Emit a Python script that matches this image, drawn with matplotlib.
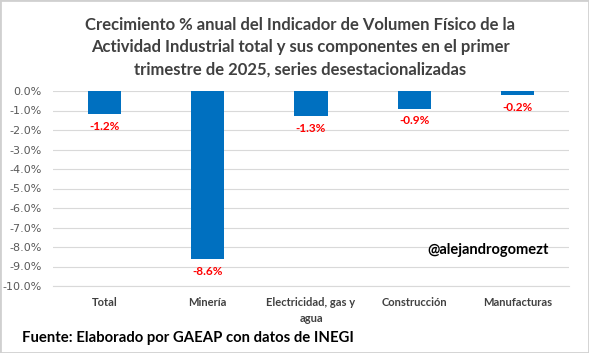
import matplotlib.pyplot as plt
from matplotlib.ticker import FuncFormatter
from matplotlib.patches import Rectangle

categorias = ["Total", "Minería", "Electricidad, gas y\nagua", "Construcción", "Manufacturas"]
crecimiento = [-1.2, -8.6, -1.3, -0.9, -0.2]
etiquetas = ["-1.2%", "-8.6%", "-1.3%", "-0.9%", "-0.2%"]

titulo = ("Crecimiento % anual del Indicador de Volumen Físico de la\n"
          "Actividad Industrial total y sus componentes en el primer\n"
          "trimestre de 2025, series desestacionalizadas")

fig = plt.figure(figsize=(5.89, 3.53), dpi=100)
ax = fig.add_axes([53 / 589, 1 - 286 / 353, 516 / 589, 195 / 353])

x = range(len(categorias))
ax.bar(x, crecimiento, width=0.32, color="#0070C0", zorder=3)

for i, (v, t) in enumerate(zip(crecimiento, etiquetas)):
    ax.annotate(t, (i, v), xytext=(0, -5), textcoords="offset points",
                ha="center", va="top", color="#FF0000", fontsize=8.5,
                fontweight="bold", family="Lato")

ax.set_ylim(-10, 0)
ax.set_xlim(-0.5, 4.5)
ax.set_yticks([-i for i in range(11)])
ax.yaxis.set_major_formatter(FuncFormatter(lambda v, p: f"{v:.1f}%"))
ax.grid(axis="y", color="#D9D9D9", linewidth=0.8, zorder=0)
for s in ["top", "right", "left"]:
    ax.spines[s].set_visible(False)
ax.spines["bottom"].set_color("#D9D9D9")
ax.tick_params(axis="y", length=0, labelsize=8, labelcolor="#595959", pad=8)
ax.tick_params(axis="x", length=0, labelsize=8, labelcolor="#404040", pad=8)
ax.set_xticks(list(x))
ax.set_xticklabels(categorias, fontweight="bold", linespacing=1.5, family="Lato")

fig.text(0.51, 0.953, titulo, ha="center", va="top", fontsize=12,
         fontweight="bold", color="#404040", linespacing=1.5, family="Lato")
fig.text(488 / 589, 1 - 250 / 353, "@alejandrogomezt", ha="center", va="center",
         fontsize=10.5, fontweight="bold", color="black", family="Lato")
fig.text(22 / 589, 1 - 338 / 353, "Fuente: Elaborado por GAEAP con datos de INEGI",
         ha="left", va="center", fontsize=10.7, fontweight="bold", color="black",
         family="Lato")

fig.patches.append(Rectangle((0, 0), 1, 1, transform=fig.transFigure, fill=False,
                             edgecolor="#D0D0D0", linewidth=2))

fig.savefig("out.png", dpi=100)
